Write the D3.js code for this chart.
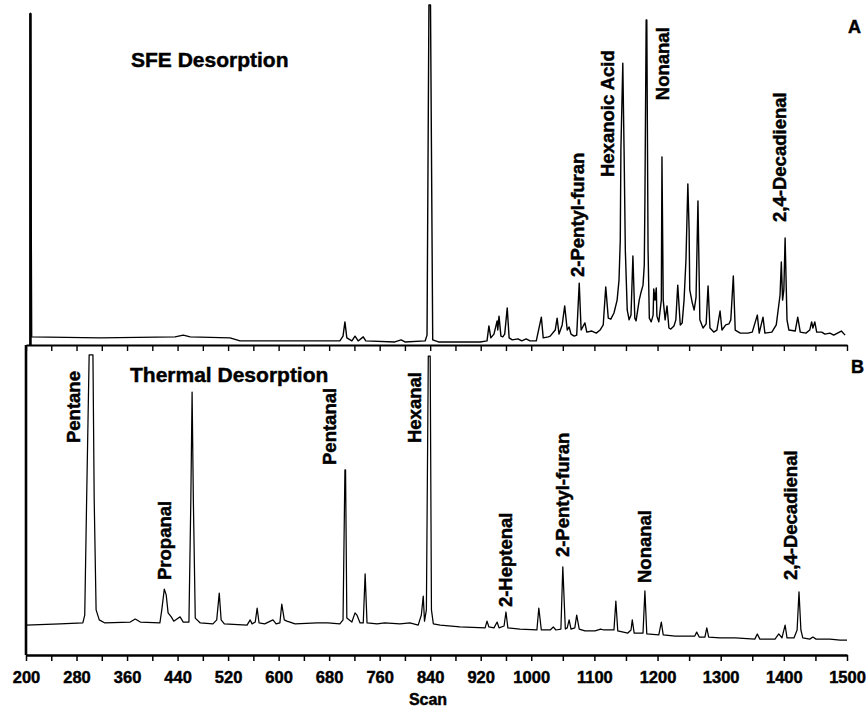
<!DOCTYPE html>
<meta charset="utf-8">
<script src="https://d3js.org/d3.v7.min.js"></script>
<style>
  body { margin: 0; background: #fff; }
  svg text { font-family: "Liberation Sans", Arial, sans-serif; font-weight: bold; fill: #000;
             stroke: #000; stroke-width: 0.45px; }
</style>
<div id="chart"></div>
<script>
// scan ticks: every 40 up to 1000, then every 50
var scanTicks = [200,240,280,320,360,400,440,480,520,560,600,640,680,720,760,800,840,880,920,960,1000,
                 1050,1100,1150,1200,1250,1300,1350,1400,1450,1500];
var scanLabels = [200,280,360,440,520,600,680,760,840,920,1000,1100,1200,1300,1400,1500];

// A: SFE desorption trace [scan, relative intensity]
var sfeTrace = [[207,0],[207,97.6],[209,2.4],[317,2.1],[436,2.4],[449,2.9],[460,2.4],[523,2.1],[539,1.2],
  [634,1.2],[697,1.2],[702,2.6],[705,6.8],[708,2.1],[716,1.2],[721,2.6],[726,1.2],[734,2.4],[738,1.2],
  [784,0.9],[794,1.5],[800,0.9],[832,1.2],[835,2.9],[838,100],[840.5,100],[844,1.5],[853,0.9],[919,0.9],
  [930,1.2],[933,5.6],[936,2.1],[941,3.2],[946,7.1],[947,4.4],[949,8.5],[952,2.6],[955,2.4],[958,3.2],
  [962,10.9],[965,2.1],[970,1.5],[979,1.8],[985,1.2],[992,1.8],[998,1.2],[1008,1.2],[1016,8.2],[1019,2.1],
  [1027,2.4],[1030,2.6],[1038,4.4],[1041,7.9],[1044,3.2],[1049,5.9],[1053,11.5],[1057,4.4],[1060,5.3],
  [1063,3.2],[1068,2.6],[1072,2.9],[1076,18.2],[1079,4.4],[1085,6.5],[1088,3.8],[1096,4.1],[1103,3.5],
  [1109,4.4],[1114,5.9],[1118,17.1],[1122,7.9],[1126,7.6],[1131,9.4],[1136,13.2],[1139,19.1],[1141,30.9],
  [1142,57.4],[1145,82.9],[1147,57.4],[1149,27.9],[1152,10.3],[1155,7.4],[1158,8.8],[1161,26.2],[1164,7.9],
  [1166,7.1],[1171,13.2],[1174,15.6],[1177,17.6],[1179,23.5],[1180,42.6],[1182,95.6],[1183,95.6],[1185,27.9],
  [1187,7.9],[1190,6.8],[1193,8.8],[1194,16.5],[1196,13.2],[1198,16.8],[1199,8.5],[1202,6.8],[1206,13.2],
  [1207,55.3],[1209,13.2],[1212,7.4],[1215,11.5],[1218,5.0],[1221,4.7],[1226,5.6],[1229,7.4],[1232,17.6],
  [1236,5.9],[1239,6.5],[1242,13.2],[1245,25.0],[1248,47.4],[1250,33.8],[1251,16.2],[1255,12.4],[1258,10.3],
  [1261,14.1],[1264,42.4],[1267,7.4],[1272,5.0],[1277,6.2],[1280,17.4],[1283,5.0],[1289,3.8],[1294,4.4],
  [1299,10.0],[1302,4.4],[1308,5.9],[1313,6.2],[1316,7.4],[1320,20.3],[1323,4.4],[1331,3.5],[1343,3.5],
  [1350,3.8],[1358,8.8],[1361,3.5],[1367,8.2],[1370,3.5],[1381,3.8],[1388,5.9],[1391,10.3],[1394,14.7],
  [1396,24.4],[1398,13.2],[1400,16.2],[1402,31.5],[1405,7.4],[1408,4.4],[1418,4.1],[1422,8.2],[1426,3.8],
  [1435,3.5],[1441,4.4],[1444,6.8],[1446,5.0],[1449,6.8],[1452,3.8],[1460,3.8],[1465,3.2],[1473,3.5],
  [1479,2.9],[1485,3.5],[1491,4.1],[1497,2.9]];

// B: thermal desorption trace [scan, relative intensity]
var tdTrace = [[200,9.8],[254,10.2],[290,10.5],[293,13.1],[296,50.8],[300,98.4],[306,98.4],[308,50.8],
  [311,14.8],[316,11.5],[325,10.5],[365,10.8],[373,11.8],[381,10.8],[412,10.5],[415,14.8],[419,21.6],
  [422,19.7],[425,13.8],[430,12.5],[434,11.1],[439,11.8],[444,12.5],[449,10.8],[458,10.8],[461,50.8],
  [463,86.2],[465,50.8],[468,12.1],[476,10.5],[496,10.2],[502,11.5],[506,20.3],[509,11.5],[514,10.2],
  [550,9.8],[555,11.5],[558,10.2],[563,10.8],[566,15.4],[569,10.5],[578,10.2],[591,11.5],[596,10.2],
  [602,10.5],[605,16.7],[609,11.5],[613,11.1],[618,10.8],[626,10.2],[661,10.5],[678,10.5],[697,10.2],
  [702,11.5],[705,60.7],[706,60.7],[708,12.1],[716,10.8],[721,13.8],[724,13.1],[729,10.5],[734,10.5],
  [737,26.6],[740,10.5],[756,10.2],[768,10.5],[792,10.2],[808,10.5],[821,9.8],[826,13.1],[829,19.3],
  [831,11.1],[834,14.8],[837,98.0],[840,98.0],[842,14.8],[845,10.2],[856,9.8],[887,9.2],[927,8.9],
  [930,11.1],[933,9.2],[941,8.9],[946,10.8],[949,8.9],[957,9.5],[960,14.1],[963,8.9],[982,8.5],[1009,8.2],
  [1012,15.4],[1016,8.2],[1030,8.2],[1035,9.2],[1039,8.2],[1047,8.5],[1050,28.9],[1054,8.5],[1057,8.9],
  [1060,11.5],[1063,8.5],[1069,8.9],[1072,13.1],[1076,8.5],[1085,7.9],[1101,7.9],[1110,8.5],[1115,8.2],
  [1131,8.2],[1134,17.7],[1137,7.9],[1153,7.2],[1158,8.2],[1160,11.5],[1163,7.2],[1177,7.2],[1180,21.0],
  [1183,6.9],[1202,6.6],[1206,10.8],[1209,6.6],[1228,6.2],[1259,6.2],[1262,7.5],[1266,5.9],[1275,5.9],
  [1278,8.9],[1281,5.9],[1299,5.6],[1323,5.6],[1354,5.2],[1358,6.9],[1362,5.2],[1386,5.2],[1392,6.9],
  [1397,5.6],[1402,9.8],[1405,5.6],[1416,5.6],[1421,8.2],[1424,20.7],[1427,8.2],[1430,5.6],[1441,5.2],
  [1446,5.9],[1451,5.2],[1473,5.2],[1489,4.9],[1500,4.9]];

// peak names: text, scan of label, intensity where the label starts
var sfeNames = ["2-Pentyl-furan", "Hexanoic Acid", "Nonanal", "2,4-Decadienal"];
var sfeNameScans = [1084, 1131, 1218, 1403];
var sfeNameLevels = [20, 49.4, 72, 36.2];

var tdNames = ["Pentane", "Propanal", "Pentanal", "Hexanal", "2-Heptenal", "2-Pentyl-furan", "Nonanal", "2,4-Decadienal"];
var tdNameScans = [285.5, 429.6, 691, 825.5, 969.6, 1059.8, 1189.7, 1420.9];
var tdNameLevels = [69.5, 24.6, 62.3, 69.5, 15.7, 32.1, 23.6, 24.6];

var width = 866, height = 707;

var svg = d3.select("#chart")
  .append("svg")
    .attr("width", width)
    .attr("height", height);

var x = d3.scaleLinear().domain([200, 1500]).range([26, 847]);
var yA = d3.scaleLinear().domain([0, 100]).range([345, 5]);
var yB = d3.scaleLinear().domain([0, 100]).range([655, 350]);

// traces
var lineA = d3.line().x(d => x(d[0])).y(d => yA(d[1]));
var lineB = d3.line().x(d => x(d[0])).y(d => yB(d[1]));

svg.append("path")
  .datum(sfeTrace)
  .attr("d", lineA)
  .attr("fill", "none")
  .attr("stroke", "#000")
  .attr("stroke-width", 1.4)
  .attr("stroke-linejoin", "round");

// the off-scale solvent front at the left of A is printed heavier
svg.append("path")
  .datum(sfeTrace.slice(0, 2))
  .attr("d", lineA)
  .attr("fill", "none")
  .attr("stroke", "#000")
  .attr("stroke-width", 2.6);

svg.append("path")
  .datum(tdTrace)
  .attr("d", lineB)
  .attr("fill", "none")
  .attr("stroke", "#000")
  .attr("stroke-width", 1.25)
  .attr("stroke-linejoin", "round");

// left axis line of panel B
svg.append("line")
  .attr("x1", x(200)).attr("x2", x(200))
  .attr("y1", yA(0)).attr("y2", yB(0))
  .attr("stroke", "#000")
  .attr("stroke-width", 2.6);

// x axis of panel A (no labels)
var axisA = svg.append("g")
  .attr("transform", "translate(0," + yA(0) + ")")
  .call(d3.axisBottom(x).tickValues(scanTicks).tickSize(6).tickSizeOuter(0).tickFormat(""));
axisA.select(".domain").attr("stroke-width", 1.8);
axisA.selectAll(".tick line").attr("stroke-width", 1.4);

// x axis of panel B
var axisB = svg.append("g")
  .attr("transform", "translate(0," + yB(0) + ")")
  .call(d3.axisBottom(x).tickValues(scanTicks).tickSize(6).tickSizeOuter(0).tickPadding(10)
    .tickFormat(d => scanLabels.indexOf(d) >= 0 ? d : ""));
axisB.select(".domain").attr("stroke-width", 2.4);
axisB.selectAll(".tick line").attr("stroke-width", 1.5);
axisB.selectAll(".tick text")
  .attr("font-family", "'Liberation Sans', Arial, sans-serif")
  .attr("font-weight", "bold")
  .attr("font-size", "16.5px");

svg.append("text")
  .attr("x", 428)
  .attr("y", 705)
  .attr("text-anchor", "middle")
  .attr("font-size", "16px")
  .text("Scan");

// panel titles and letters
svg.append("text").attr("x", 131).attr("y", 67).attr("font-size", "21px").text("SFE Desorption");
svg.append("text").attr("x", 130).attr("y", 382).attr("font-size", "21px").text("Thermal Desorption");
svg.append("text").attr("x", 848).attr("y", 33).attr("font-size", "18px").text("A");
svg.append("text").attr("x", 851).attr("y", 373).attr("font-size", "18px").text("B");

// rotated peak names
svg.append("g").selectAll("text")
  .data(sfeNames)
  .enter()
  .append("text")
    .attr("transform", (d, i) => "translate(" + x(sfeNameScans[i]) + "," + yA(sfeNameLevels[i]) + ") rotate(-90)")
    .attr("font-size", "18.5px")
    .text(d => d);

svg.append("g").selectAll("text")
  .data(tdNames)
  .enter()
  .append("text")
    .attr("transform", (d, i) => "translate(" + x(tdNameScans[i]) + "," + yB(tdNameLevels[i]) + ") rotate(-90)")
    .attr("font-size", "18.5px")
    .text(d => d);
</script>
